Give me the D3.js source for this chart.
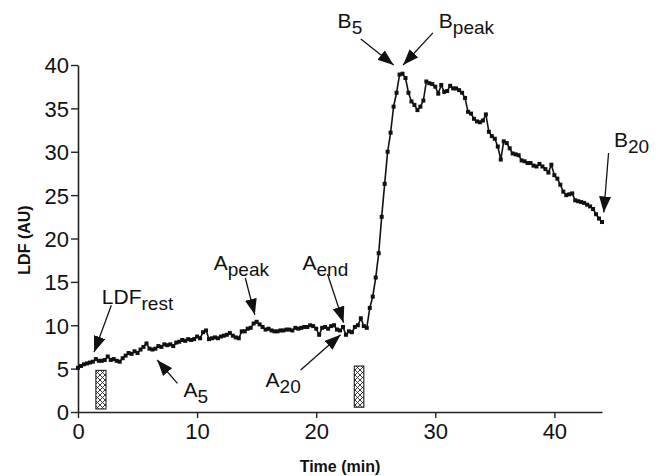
<!DOCTYPE html>
<html>
<head>
<meta charset="utf-8">
<script src="https://cdn.jsdelivr.net/npm/d3@7"></script>
<style>
	body { margin: 0; background: #fff; }
	svg { display: block; font-family: "Liberation Sans", Arial, sans-serif; }
</style>
</head>
<body>
<script>
// LDF trace, one sample every 0.25 min from 0 to 44 min
const sampleMin = 0.25;
const ldf = [
	5.1, 5.3, 5.5, 5.6, 5.7, 5.8, 6.1, 5.9, 5.9, 6.0, 6.4, 6.0, 6.1, 5.9, 5.8, 6.2,
	6.5, 6.8, 6.7, 7.0, 6.8, 7.2, 7.5, 7.9, 7.3, 7.2, 7.3, 7.6, 7.5, 7.8, 7.7, 7.8,
	7.6, 8.0, 8.1, 8.3, 8.2, 8.4, 8.3, 8.4, 8.7, 8.5, 9.2, 9.4, 8.4, 8.5, 8.6, 8.5,
	8.7, 8.8, 8.9, 9.1, 8.8, 8.6, 8.5, 9.3, 9.3, 9.6, 9.7, 10.2, 10.4, 10.1, 9.8, 9.5,
	9.6, 9.4, 9.3, 9.3, 9.4, 9.4, 9.5, 9.5, 9.4, 9.7, 9.6, 9.7, 9.8, 9.8, 10.0, 9.9,
	9.6, 8.9, 9.7, 9.8, 9.6, 9.9, 10.0, 9.5, 9.4, 9.8, 8.9, 9.3, 9.2, 9.8, 10.0, 10.8,
	9.9, 9.7, 12.0, 13.3, 15.5, 18.3, 22.5, 26.3, 30.0, 32.2, 35.2, 36.8, 38.9, 39.0, 38.5, 36.8,
	35.8, 35.4, 34.8, 35.2, 35.9, 38.1, 37.9, 37.8, 37.5, 36.7, 37.7, 36.9, 37.0, 37.6, 37.3, 37.3,
	37.1, 36.8, 36.2, 34.6, 34.4, 33.8, 33.5, 33.4, 33.6, 34.3, 32.3, 31.8, 31.5, 30.6, 29.1, 31.2,
	31.0, 30.4, 29.8, 29.7, 29.6, 29.0, 28.9, 28.7, 28.7, 28.4, 28.3, 28.6, 28.3, 28.0, 27.6, 28.5,
	27.3, 26.9, 26.2, 25.4, 25.0, 25.1, 25.2, 24.4, 24.3, 24.2, 24.1, 23.9, 23.7, 23.4, 22.8, 22.3,
	21.9
];

const xTicks = [0, 10, 20, 30, 40];
const yTicks = [0, 5, 10, 15, 20, 25, 30, 35, 40];

// stimulus periods (hatched boxes): [start min, end min, bottom, top]
const stimuli = [
	[1.5, 2.35, 0.35, 4.8],
	[23.2, 24.0, 0.55, 5.3]
];

// labels: main letter, subscript, text position, arrow from -> tip (data units)
const labels = [
	{ main: 'LDF', sub: 'rest', tx: 2.0, ty: 12.4, from: [2.8, 12.3], to: [1.35, 6.9] },
	{ main: 'A', sub: '5', tx: 8.85, ty: 1.75, from: [8.35, 3.3], to: [6.65, 6.0] },
	{ main: 'A', sub: 'peak', tx: 11.4, ty: 16.35, from: [14.05, 15.45], to: [14.85, 11.2] },
	{ main: 'A', sub: 'end', tx: 18.85, ty: 16.35, from: [20.95, 15.9], to: [22.3, 10.3] },
	{ main: 'A', sub: '20', tx: 15.75, ty: 2.9, from: [18.7, 4.85], to: [22.05, 8.9] },
	{ main: 'B', sub: '5', tx: 21.8, ty: 44.3, from: [23.75, 43.0], to: [26.5, 40.0] },
	{ main: 'B', sub: 'peak', tx: 30.3, ty: 44.3, from: [29.8, 43.7], to: [27.3, 40.0] },
	{ main: 'B', sub: '20', tx: 45.0, ty: 30.5, from: [44.55, 29.85], to: [44.15, 23.0] }
];

const width = 660;
const height = 476;
const margin = { top: 65, right: 58, bottom: 64, left: 78 };

const svg = d3.select('body')
	.append('svg')
	.attr('width', width)
	.attr('height', height);

const xScale = d3.scaleLinear()
	.domain([0, 44])
	.range([margin.left, width - margin.right]);

const yScale = d3.scaleLinear()
	.domain([0, 40])
	.range([height - margin.bottom, margin.top]);

const defs = svg.append('defs');

const hatch = defs.append('pattern')
	.attr('id', 'hatch')
	.attr('patternUnits', 'userSpaceOnUse')
	.attr('width', 5)
	.attr('height', 5);
hatch.append('rect').attr('width', 5).attr('height', 5).attr('fill', '#fff');
hatch.append('path')
	.attr('d', 'M0,0 L5,5 M5,0 L0,5')
	.attr('stroke', '#222')
	.attr('stroke-width', 0.9);

defs.append('marker')
	.attr('id', 'head')
	.attr('viewBox', '0 0 16 12')
	.attr('refX', 16)
	.attr('refY', 6)
	.attr('markerWidth', 16)
	.attr('markerHeight', 12)
	.attr('markerUnits', 'userSpaceOnUse')
	.attr('orient', 'auto')
	.append('path')
	.attr('d', 'M0,0 L16,6 L0,12 Z')
	.attr('fill', '#111');

// axes
const xAxis = svg.append('g')
	.attr('transform', 'translate(0,' + yScale(0) + ')')
	.call(d3.axisBottom(xScale).tickValues(xTicks).tickSize(6).tickPadding(5).tickSizeOuter(0));

const yAxis = svg.append('g')
	.attr('transform', 'translate(' + xScale(0) + ',0)')
	.call(d3.axisLeft(yScale).tickValues(yTicks).tickSize(7).tickPadding(2).tickSizeOuter(0));

[xAxis, yAxis].forEach(function(a) {
	a.select('.domain').attr('stroke', '#222').attr('stroke-width', 1.6);
	a.selectAll('.tick line').attr('stroke', '#222').attr('stroke-width', 1.4);
	a.selectAll('.tick text')
		.attr('fill', '#111')
		.style('font-size', '22px')
		.style('font-family', '"Liberation Sans", Arial, sans-serif');
});
yAxis.selectAll('.tick text').attr('dy', '0.36em');

svg.append('text')
	.attr('x', 340)
	.attr('y', 472)
	.attr('text-anchor', 'middle')
	.style('font-size', '16px')
	.style('font-weight', 'bold')
	.attr('fill', '#111')
	.text('Time (min)');

svg.append('text')
	.attr('transform', 'translate(30,240) rotate(-90)')
	.attr('text-anchor', 'middle')
	.style('font-size', '16px')
	.style('font-weight', 'bold')
	.attr('fill', '#111')
	.text('LDF (AU)');

// stimulus boxes
svg.selectAll('rect.stim')
	.data(stimuli)
	.enter()
	.append('rect')
	.attr('class', 'stim')
	.attr('x', function(d) { return xScale(d[0]); })
	.attr('y', function(d) { return yScale(d[3]); })
	.attr('width', function(d) { return xScale(d[1]) - xScale(d[0]); })
	.attr('height', function(d) { return yScale(d[2]) - yScale(d[3]); })
	.attr('fill', 'url(#hatch)')
	.attr('stroke', '#222')
	.attr('stroke-width', 1.1);

// trace
const points = ldf.map(function(v, i) { return [i * sampleMin, v]; });

svg.append('path')
	.datum(points)
	.attr('fill', 'none')
	.attr('stroke', '#111')
	.attr('stroke-width', 1.6)
	.attr('d', d3.line()
		.x(function(d) { return xScale(d[0]); })
		.y(function(d) { return yScale(d[1]); }));

svg.selectAll('rect.pt')
	.data(points)
	.enter()
	.append('rect')
	.attr('class', 'pt')
	.attr('x', function(d) { return xScale(d[0]) - 2; })
	.attr('y', function(d) { return yScale(d[1]) - 2; })
	.attr('width', 4)
	.attr('height', 4)
	.attr('fill', '#111');

// annotations
svg.selectAll('line.arrow')
	.data(labels)
	.enter()
	.append('line')
	.attr('class', 'arrow')
	.attr('x1', function(d) { return xScale(d.from[0]); })
	.attr('y1', function(d) { return yScale(d.from[1]); })
	.attr('x2', function(d) { return xScale(d.to[0]); })
	.attr('y2', function(d) { return yScale(d.to[1]); })
	.attr('stroke', '#111')
	.attr('stroke-width', 1.3)
	.attr('marker-end', 'url(#head)');

const lab = svg.selectAll('text.lab')
	.data(labels)
	.enter()
	.append('text')
	.attr('class', 'lab')
	.attr('x', function(d) { return xScale(d.tx); })
	.attr('y', function(d) { return yScale(d.ty); })
	.attr('fill', '#111')
	.style('font-size', '21px');

lab.append('tspan').text(function(d) { return d.main; });
lab.append('tspan')
	.attr('dy', 6)
	.style('font-size', '19px')
	.text(function(d) { return d.sub; });
</script>
</body>
</html>
